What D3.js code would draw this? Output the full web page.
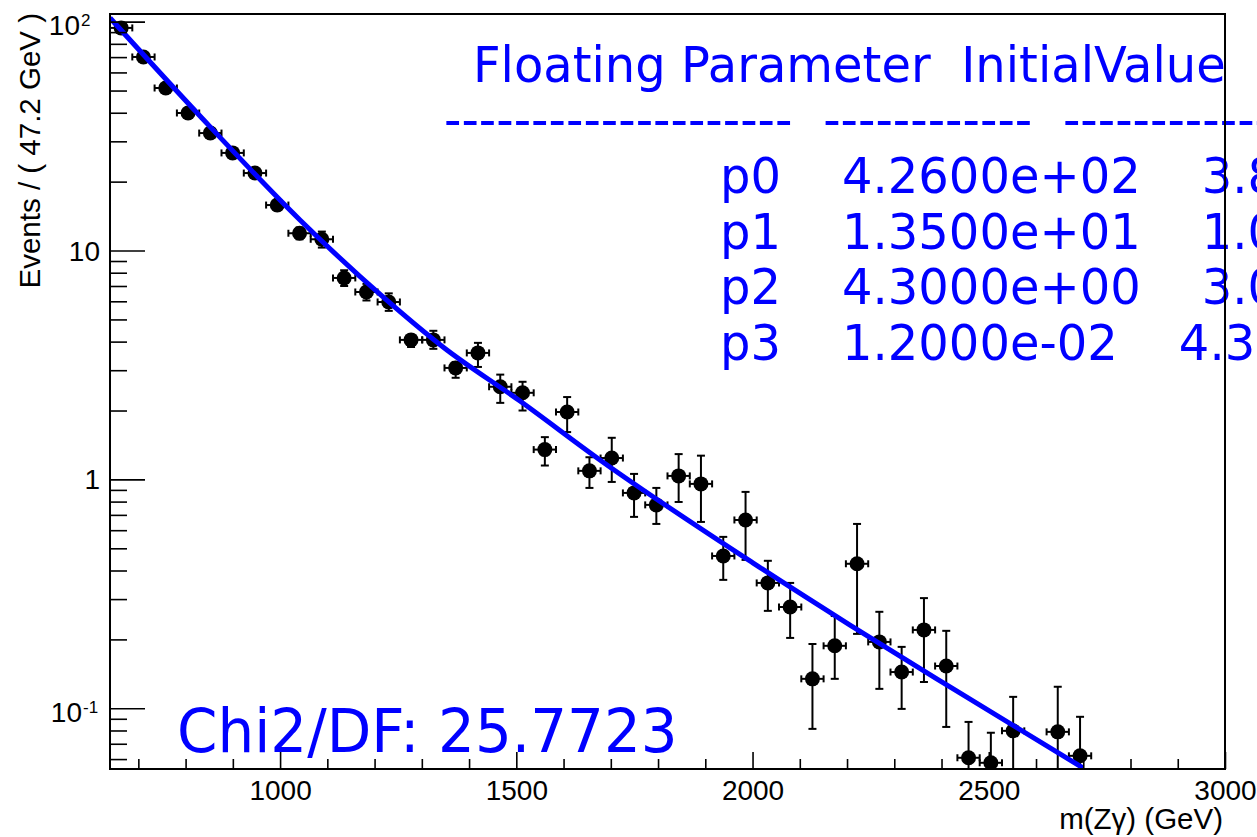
<!DOCTYPE html>
<html>
<head>
<meta charset="utf-8">
<script src="https://cdn.jsdelivr.net/npm/d3@7"></script>
<style>
body { margin: 0; background: #fff; }
svg { display: block; }
</style>
</head>
<body>
<div class="graphContainer"></div>
<script>
const w = 1257;
const h = 837;
const frame = {left: 110, top: 14, right: 1225, bottom: 769};

// bin centres of the data (GeV), 47.2 GeV wide bins
const mass = [663.6, 710.8, 758.0, 805.2, 852.4, 899.6, 946.8, 994.0, 1041.2, 1088.4,
	1135.6, 1182.8, 1230.0, 1277.2, 1324.4, 1371.6, 1418.8, 1466.0, 1513.2, 1560.4,
	1607.6, 1654.8, 1702.0, 1749.2, 1796.4, 1843.6, 1890.8, 1938.0, 1985.2, 2032.4,
	2079.6, 2126.8, 2174.0, 2221.2, 2268.4, 2315.6, 2362.8, 2410.0, 2457.2, 2504.4,
	2551.6, 2646.0, 2693.2];
const halfBin = 23.6;

// events per bin
const events = [93.9, 70.1, 51.3, 39.9, 32.6, 26.7, 21.8, 15.8, 11.9, 11.2,
	7.59, 6.59, 5.96, 4.07, 4.07, 3.07, 3.57, 2.54, 2.39, 1.35,
	1.97, 1.09, 1.24, 0.873, 0.774, 1.036, 0.956, 0.463, 0.665, 0.353,
	0.277, 0.1345, 0.1875, 0.428, 0.195, 0.144, 0.220, 0.153, 0.0608, 0.0578,
	0.0797, 0.0789, 0.062];

// upper / lower ends of the error bars
const errHi = [97.6, 72.9, 53.4, 41.6, 34.0, 27.9, 22.8, 16.6, 12.6, 12.1,
	8.2, 7.15, 6.5, 4.28, 4.46, 3.26, 3.95, 2.87, 2.67, 1.53,
	2.29, 1.25, 1.52, 1.057, 0.918, 1.29, 1.27, 0.561, 0.882, 0.441,
	0.353, 0.191, 0.253, 0.639, 0.264, 0.1855, 0.303, 0.218, 0.0872, 0.0782,
	0.1122, 0.1242, 0.0918];
const errLo = [90.2, 67.3, 49.2, 38.2, 31.2, 25.5, 20.8, 15.0, 11.2, 10.3,
	7.0, 6.05, 5.45, 3.79, 3.72, 2.78, 3.10, 2.16, 2.00, 1.15,
	1.61, 0.918, 0.975, 0.686, 0.639, 0.797, 0.652, 0.364, 0.445, 0.2665,
	0.203, 0.0813, 0.1345, 0.2114, 0.1216, 0.0994, 0.1303, 0.0829, 0.03, 0.03,
	0.03, 0.03, 0.03];

// fitted curve
const fitMass = [640, 830.5, 1042.1, 1217.8, 1344.8, 1507.8, 1677.1, 2000.6, 2206.3, 2417.9, 2699.4];
const fitVal = [103.8, 38.7, 13.6, 6.27, 3.79, 2.20, 1.216, 0.432, 0.231, 0.124, 0.0549];

// fit parameter table
const params = ["p0", "p1", "p2", "p3"];
const initVals = ["4.2600e+02", "1.3500e+01", "4.3000e+00", "1.2000e-02"];
const finalVals = ["3.8", "1.0", "3.0", "4.3"];
const chi2 = "25.7723";

// axis ticks
const xTicks = [1000, 1500, 2000, 2500, 3000];
const xMinor = [700, 800, 900, 1100, 1200, 1300, 1400, 1600, 1700, 1800, 1900,
	2100, 2200, 2300, 2400, 2600, 2700, 2800, 2900];
const yTicks = [0.1, 1, 10, 100];
const yTickBase = ["10", "1", "10", "10"];
const yTickExp = ["-1", "", "", "2"];
const yMinor = [0.06, 0.07, 0.08, 0.09, 0.2, 0.3, 0.4, 0.5, 0.6, 0.7, 0.8, 0.9,
	2, 3, 4, 5, 6, 7, 8, 9, 20, 30, 40, 50, 60, 70, 80, 90];

const blue = "#0000ff";
const axisFont = "'Liberation Sans', Arial, sans-serif";
const textFont = "'DejaVu Sans', sans-serif";

//create svg
const svg = d3.select(".graphContainer")
				.append("svg")
				.attr("width", w)
				.attr("height", h);

svg.append("rect").attr("width", w).attr("height", h).attr("fill", "#fff");

const x = d3.scaleLinear().domain([640, 3000]).range([frame.left, frame.right]);
const y = d3.scaleLog().domain([0.0543, 108]).range([frame.bottom, frame.top]);

svg.append("clipPath").attr("id", "plotClip")
	.append("rect")
	.attr("x", frame.left).attr("y", frame.top)
	.attr("width", frame.right - frame.left)
	.attr("height", frame.bottom - frame.top);

const data = mass.map((m, i) => ({m: m, v: events[i], lo: errLo[i], hi: errHi[i]}));

//data points with error bars
const pts = svg.append("g").attr("clip-path", "url(#plotClip)")
				.attr("stroke", "#000").attr("stroke-width", 2)
				.selectAll("g").data(data).enter().append("g");

pts.append("line")
	.attr("x1", d => x(d.m)).attr("x2", d => x(d.m))
	.attr("y1", d => y(d.lo)).attr("y2", d => y(d.hi));
pts.append("line")
	.attr("x1", d => x(d.m) - 4).attr("x2", d => x(d.m) + 4)
	.attr("y1", d => y(d.hi)).attr("y2", d => y(d.hi));
pts.append("line")
	.attr("x1", d => x(d.m) - 4).attr("x2", d => x(d.m) + 4)
	.attr("y1", d => y(d.lo)).attr("y2", d => y(d.lo));
pts.append("line")
	.attr("x1", d => x(d.m - halfBin)).attr("x2", d => x(d.m + halfBin))
	.attr("y1", d => y(d.v)).attr("y2", d => y(d.v));
pts.append("line")
	.attr("x1", d => x(d.m - halfBin)).attr("x2", d => x(d.m - halfBin))
	.attr("y1", d => y(d.v) - 3.5).attr("y2", d => y(d.v) + 3.5);
pts.append("line")
	.attr("x1", d => x(d.m + halfBin)).attr("x2", d => x(d.m + halfBin))
	.attr("y1", d => y(d.v) - 3.5).attr("y2", d => y(d.v) + 3.5);
pts.append("circle")
	.attr("cx", d => x(d.m)).attr("cy", d => y(d.v))
	.attr("r", 7.5).attr("fill", "#000").attr("stroke", "none");

//fit curve goes on top of the points
const fit = fitMass.map((m, i) => [m, fitVal[i]]);
svg.append("path")
	.datum(fit)
	.attr("clip-path", "url(#plotClip)")
	.attr("fill", "none")
	.attr("stroke", blue)
	.attr("stroke-width", 5)
	.attr("d", d3.line().x(d => x(d[0])).y(d => y(d[1])).curve(d3.curveMonotoneX));

//blue texts, slightly squeezed like the original
function blueText(str, tx, ty, size, sx) {
	return svg.append("text")
		.attr("transform", `translate(${tx},${ty}) scale(${sx},1)`)
		.attr("font-family", textFont)
		.attr("font-size", size)
		.attr("fill", blue)
		.style("white-space", "pre")
		.text(str);
}

blueText("Floating Parameter  InitialValue", 473, 82, 50, 0.96);
blueText("--------------------  ------------  --------------", 444, 137, 50, 0.966);
const rowY = [193, 248.5, 304, 360];
params.forEach((p, i) => {
	blueText(`${p}    ${initVals[i]}    ${finalVals[i]}`, 720, rowY[i], 50, 0.96);
});
blueText("Chi2/DF: " + chi2, 177, 752, 61, 0.95);

//frame
svg.append("rect")
	.attr("x", frame.left).attr("y", frame.top)
	.attr("width", frame.right - frame.left)
	.attr("height", frame.bottom - frame.top)
	.attr("fill", "none").attr("stroke", "#000").attr("stroke-width", 2);

//x axis, ticks pointing into the frame
const gx = svg.append("g")
	.attr("transform", `translate(0,${frame.bottom})`)
	.call(d3.axisBottom(x).tickValues(xTicks).tickSize(-17).tickPadding(11).tickFormat(d3.format("d")));
svg.append("g")
	.attr("transform", `translate(0,${frame.bottom})`)
	.call(d3.axisBottom(x).tickValues(xMinor).tickSize(-10).tickFormat(""));

//y axis
svg.append("g")
	.attr("transform", `translate(${frame.left},0)`)
	.call(d3.axisLeft(y).tickValues(yTicks).tickSize(-35).tickFormat(""));
svg.append("g")
	.attr("transform", `translate(${frame.left},0)`)
	.call(d3.axisLeft(y).tickValues(yMinor).tickSize(-17).tickFormat(""));

svg.selectAll(".domain").remove();
svg.selectAll(".tick line").attr("stroke", "#000").attr("stroke-width", 1.6);
gx.selectAll("text")
	.attr("font-family", axisFont)
	.attr("font-size", 28)
	.attr("fill", "#000");

//y tick labels, powers of ten drawn with a raised exponent
yTicks.forEach((t, i) => {
	const hasExp = yTickExp[i] !== "";
	const by = y(t) + (hasExp ? 13.5 : 10);
	const endX = hasExp ? (yTickExp[i].length > 1 ? 82 : 80) : 100;
	svg.append("text")
		.attr("x", endX).attr("y", by)
		.attr("text-anchor", "end")
		.attr("font-family", axisFont).attr("font-size", 28)
		.text(yTickBase[i]);
	if (hasExp) {
		svg.append("text")
			.attr("x", endX + 1).attr("y", by - 9)
			.attr("font-family", axisFont).attr("font-size", 17)
			.text(yTickExp[i]);
	}
});

//axis titles
svg.append("text")
	.attr("x", 1223).attr("y", 829)
	.attr("text-anchor", "end")
	.attr("font-family", axisFont).attr("font-size", 29.5)
	.text("m(Zγ) (GeV)");

svg.append("text")
	.attr("transform", "translate(40,13) rotate(-90)")
	.attr("text-anchor", "end")
	.attr("font-family", axisFont).attr("font-size", 29.5)
	.text("Events / ( 47.2 GeV )");
</script>
</body>
</html>
